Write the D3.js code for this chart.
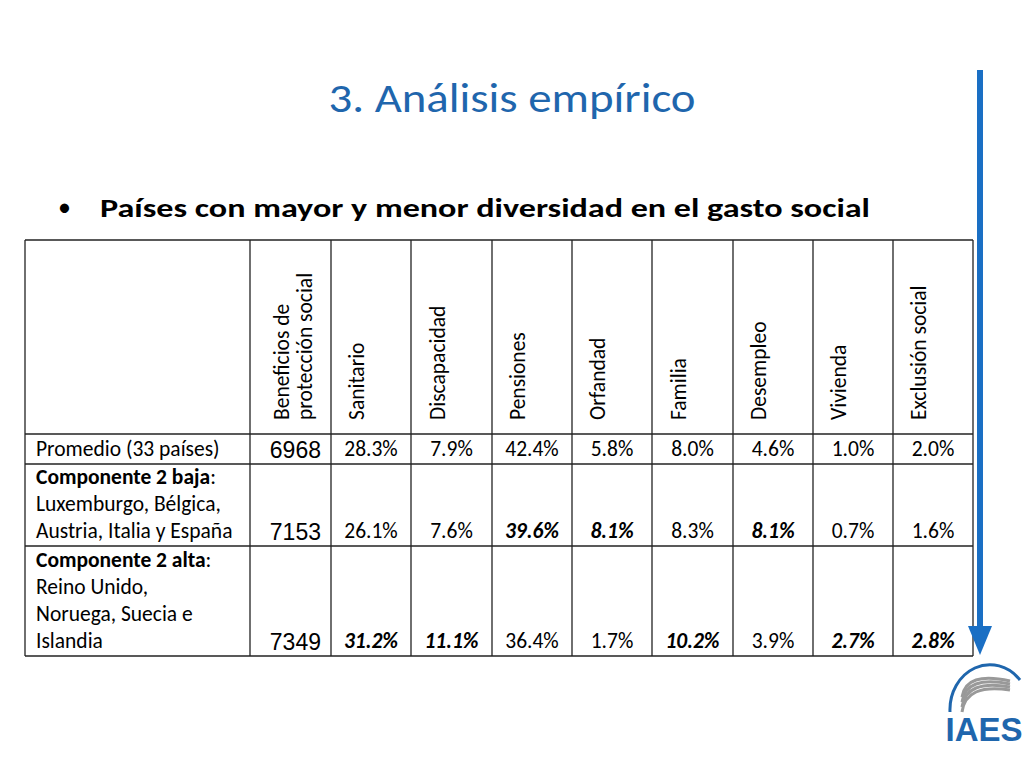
<!DOCTYPE html><html><head><meta charset="utf-8"><script src="https://cdn.jsdelivr.net/npm/d3@7"></script>
<style>body{margin:0;background:#fff}</style></head><body><svg id="s" width="1024" height="768"></svg>
<script>
const headers=[["Beneficios de","protección social"],["Sanitario"],["Discapacidad"],["Pensiones"],["Orfandad"],["Familia"],["Desempleo"],["Vivienda"],["Exclusión social"]];
const rowLabels=[[["Promedio (33 países)",false]],[["Componente 2 baja",true],[":",false],["\nLuxemburgo, Bélgica,",false],["\nAustria, Italia y España",false]],[["Componente 2 alta",true],[":",false],["\nReino Unido,",false],["\nNoruega, Suecia e",false],["\nIslandia",false]]];
const benefits=[6968,7153,7349];
const shares=[[28.3,7.9,42.4,5.8,8.0,4.6,1.0,2.0],[26.1,7.6,39.6,8.1,8.3,8.1,0.7,1.6],[31.2,11.1,36.4,1.7,10.2,3.9,2.7,2.8]];
const emphasis=[[0,0,0,0,0,0,0,0],[0,0,1,1,0,1,0,0],[1,1,0,0,1,0,1,1]];
const colEdges=[25,250,331,411,492,572,652,733,813,893,973];
const rowEdges=[240,434,464,546,656];
const svg=d3.select("#s");
const F="Carlito, Lato, 'Noto Sans', sans-serif";
const blue="#1f66ad";
const TS=21.5;
svg.append("text").attr("x",512).attr("y",112).attr("text-anchor","middle").attr("font-family",F).attr("font-size",40).attr("fill",blue).attr("textLength",367).attr("lengthAdjust","spacingAndGlyphs").text("3. Análisis empírico");
svg.append("text").attr("x",58).attr("y",216).attr("font-family",F).attr("font-size",26).text("•");
svg.append("text").attr("x",100).attr("y",217).attr("font-family",F).attr("font-size",27).attr("font-weight","bold").attr("textLength",770).attr("lengthAdjust","spacingAndGlyphs").text("Países con mayor y menor diversidad en el gasto social");
const g=svg.append("g").attr("stroke","#222").attr("stroke-width",1.3);
colEdges.forEach(x=>g.append("line").attr("x1",x).attr("x2",x).attr("y1",240).attr("y2",656));
rowEdges.forEach(y=>g.append("line").attr("x1",25).attr("x2",973).attr("y1",y).attr("y2",y));
headers.forEach((h,i)=>{const end=colEdges[i+2];
 h.forEach((t,j)=>{const x=h.length==1? end-47 : end-19-(h.length-1-j)*23;
  svg.append("text").attr("transform",`translate(${x},420) rotate(-90)`).attr("font-family",F).attr("font-size",TS).text(t);});});
rowLabels.forEach((parts,r)=>{const nl=parts.filter(p=>p[0].startsWith("\n")).length;
 const t=svg.append("text").attr("x",36).attr("y",rowEdges[r+2]-8-nl*27).attr("font-family",F).attr("font-size",TS);
 parts.forEach(p=>{const ts=t.append("tspan").attr("font-weight",p[1]?"bold":"normal");
  if(p[0].startsWith("\n")){ts.attr("x",36).attr("dy",27).text(p[0].slice(1));}else ts.text(p[0]);});});
benefits.forEach((v,r)=>svg.append("text").attr("x",colEdges[2]-10).attr("y",rowEdges[r+2]-6).attr("text-anchor","end").attr("font-family","'Liberation Sans',Arial").attr("font-size",23).text(v));
shares.forEach((row,r)=>row.forEach((v,c)=>{const e=emphasis[r][c];
 svg.append("text").attr("x",(colEdges[c+2]+colEdges[c+3])/2).attr("y",rowEdges[r+2]-8).attr("text-anchor","middle").attr("font-family",F).attr("font-size",TS)
 .attr("font-weight",e?"bold":"normal").attr("font-style",e?"italic":"normal").text(v.toFixed(1)+"%");}));
svg.append("line").attr("x1",980).attr("x2",980).attr("y1",70).attr("y2",630).attr("stroke","#1a6fc4").attr("stroke-width",6);
svg.append("path").attr("d","M968,626 L992,626 L980,655 Z").attr("fill","#1a6fc4");
svg.append("path").attr("d","M950,712 A40,45 0 0 1 1020,680").attr("fill","none").attr("stroke",blue).attr("stroke-width",3);
[0,1,2,3].forEach(i=>svg.append("path").attr("d",`M962,${712-i*5} Q966,${683-i*4} 1010,${690-i*3}`).attr("fill","none").attr("stroke","#999").attr("stroke-width",3));
svg.append("text").attr("x",984).attr("y",741).attr("text-anchor","middle").attr("font-family","'Liberation Sans',Arial").attr("font-weight","bold").attr("font-size",33).attr("fill",blue).text("IAES");
</script></body></html>
